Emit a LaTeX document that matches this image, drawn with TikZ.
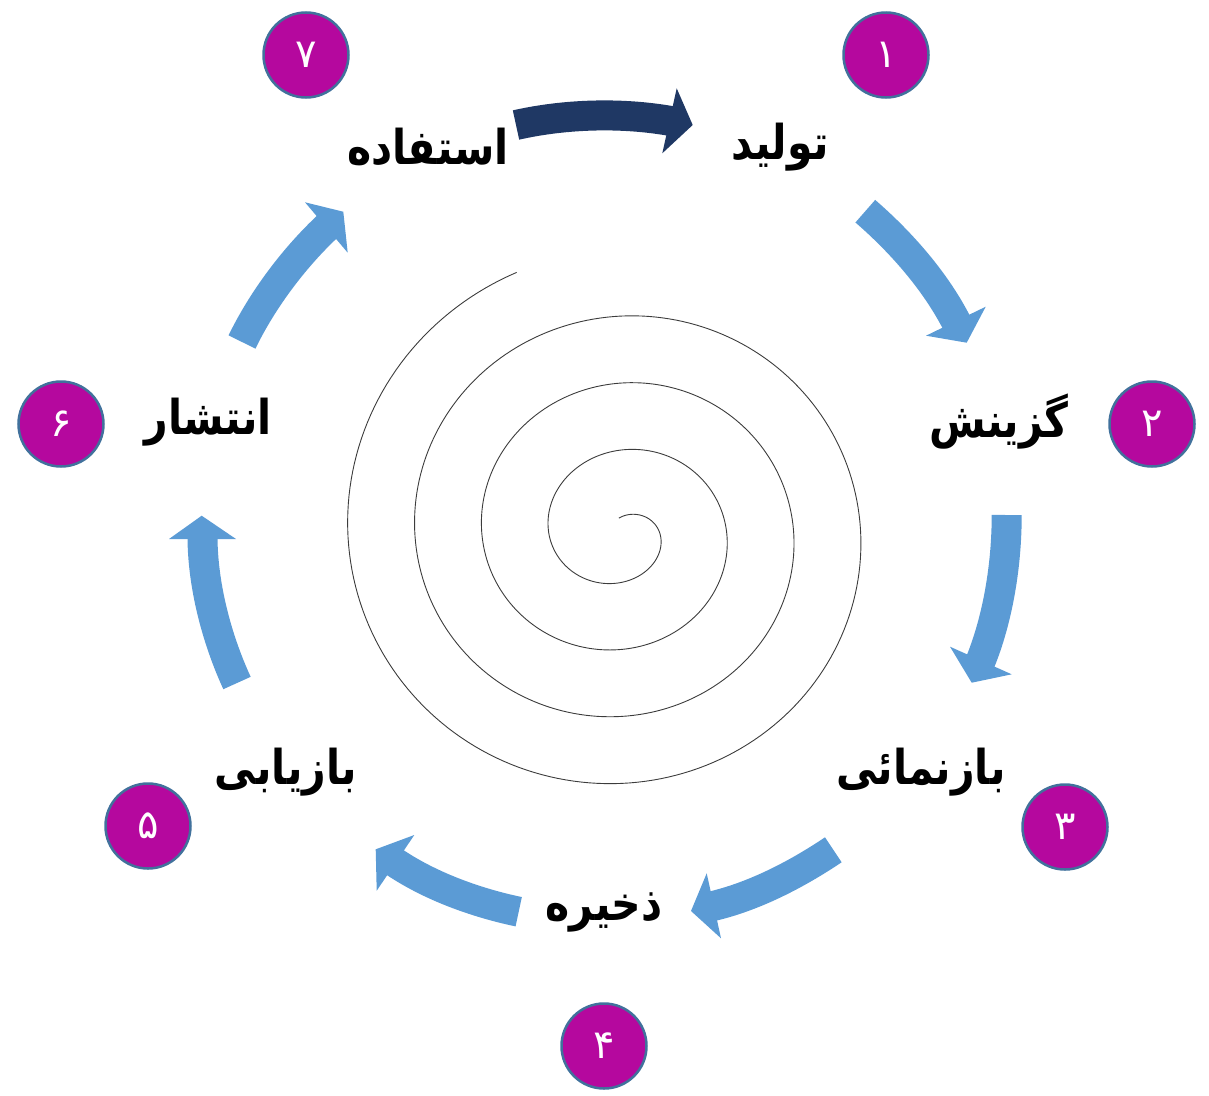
\documentclass[tikz,border=0pt]{standalone}
\usepackage{fontspec}
\newfontfamily\farsi[Script=Arabic]{DejaVu Sans}
\TeXXeTstate=1
\definecolor{badgefill}{RGB}{181,8,158}
\definecolor{badgeline}{RGB}{65,113,156}
\definecolor{flowblue}{RGB}{91,155,213}
\definecolor{flownavy}{RGB}{31,56,100}
\definecolor{spiralgray}{RGB}{60,60,60}

% right-to-left Farsi word, slightly stretched upward
\newcommand\farsiword[1]{\scalebox{1}[1.17]{\beginR #1\endR}}

\tikzset{
  term/.style={font=\farsi\bfseries\fontsize{41}{50}\selectfont, inner sep=0pt, text=black},
  badge/.style={circle, fill=badgefill, draw=badgeline, line width=2.5pt,
                minimum size=85pt, inner sep=0pt, text=white,
                font=\farsi\fontsize{40}{46}\selectfont},
  shaft/.style={line width=30pt, line cap=butt},
  spiralline/.style={draw=spiralgray, line width=0.9pt},
}

\begin{document}
\begin{tikzpicture}[x=1pt, y=-1pt]
\useasboundingbox (0,0) rectangle (1209,1095);

% stage labels
\node[term] (t1) at (780,147) {\farsiword{تولید}};
\node[term] (t2) at (999,422) {\farsiword{گزینش}};
\node[term] (t3) at (921,772) {\farsiword{بازنمائی}};
\node[term] (t4) at (604,912) {\farsiword{ذخیره}};
\node[term] (t5) at (286,772) {\farsiword{بازیابی}};
\node[term] (t6) at (208,422) {\farsiword{انتشار}};
\node[term] (t7) at (428,147) {\farsiword{استفاده}};

% numbered badges
\node[badge] (n1) at (886,55)   {\beginR ۱\endR};
\node[badge] (n2) at (1152,424) {\beginR ۲\endR};
\node[badge] (n3) at (1065,827) {\beginR ۳\endR};
\node[badge] (n4) at (604,1046) {\beginR ۴\endR};
\node[badge] (n5) at (148,826)  {\beginR ۵\endR};
\node[badge] (n6) at (61,424)   {\beginR ۶\endR};
\node[badge] (n7) at (306,55)   {\beginR ۷\endR};

% block arrows: tail, shaft end, head corners and tip
% 7 -> 1
\coordinate (s71) at (516,125);   \coordinate (e71) at (672.5,121.3);
\coordinate (h71a) at (676.7,88.3); \coordinate (h71t) at (692.7,125); \coordinate (h71b) at (662.3,153.3);
\draw[shaft, draw=flownavy] (s71) .. controls (565.7,113.8) and (622.3,112.2) .. (e71);
\fill[flownavy] (h71a) -- (h71t) -- (h71b) -- cycle;

% 1 -> 2
\coordinate (s12) at (865.3,211.2); \coordinate (e12) at (957.2,323.9);
\coordinate (h12a) at (985.7,306.7); \coordinate (h12t) at (966.7,342.7); \coordinate (h12b) at (926,335.7);
\draw[shaft, draw=flowblue] (s12) .. controls (901.2,242.3) and (935.7,281.5) .. (e12);
\fill[flowblue] (h12a) -- (h12t) -- (h12b) -- cycle;

% 2 -> 3
\coordinate (s23) at (1006.7,515); \coordinate (e23) at (979.7,663.3);
\coordinate (h23a) at (1011.7,674.3); \coordinate (h23t) at (971.7,682.7); \coordinate (h23b) at (950,646.7);
\draw[shaft, draw=flowblue] (s23) .. controls (1006.7,564) and (998.3,618) .. (e23);
\fill[flowblue] (h23a) -- (h23t) -- (h23b) -- cycle;

% 3 -> 4
\coordinate (s34) at (833.3,849.8); \coordinate (e34) at (710.9,906.5);
\coordinate (h34a) at (721,938.3); \coordinate (h34t) at (691,911); \coordinate (h34b) at (706.7,873.3);
\draw[shaft, draw=flowblue] (s34) .. controls (796.8,874.3) and (753.8,896.7) .. (e34);
\fill[flowblue] (h34a) -- (h34t) -- (h34b) -- cycle;

% 4 -> 5
\coordinate (s45) at (518.7,911.7); \coordinate (e45) at (393,861.1);
\coordinate (h45a) at (376.7,890.7); \coordinate (h45t) at (375.7,849.3); \coordinate (h45b) at (414.3,835);
\draw[shaft, draw=flowblue] (s45) .. controls (475.6,902.7) and (429.3,885.9) .. (e45);
\fill[flowblue] (h45a) -- (h45t) -- (h45b) -- cycle;

% 5 -> 6
\coordinate (s56) at (237,683); \coordinate (e56) at (202.5,536);
\coordinate (h56a) at (169,539); \coordinate (h56t) at (201.7,515.7); \coordinate (h56b) at (236,539);
\draw[shaft, draw=flowblue] (s56) .. controls (216.6,638.6) and (202.5,585) .. (e56);
\fill[flowblue] (h56a) -- (h56t) -- (h56b) -- cycle;

% 6 -> 7
\coordinate (s67) at (242,342); \coordinate (e67) at (328.5,225.5);
\coordinate (h67a) at (305,202.3); \coordinate (h67t) at (343.3,211.7); \coordinate (h67b) at (347.7,252.7);
\draw[shaft, draw=flowblue] (s67) .. controls (262.5,299.7) and (294.2,257.5) .. (e67);
\fill[flowblue] (h67a) -- (h67t) -- (h67b) -- cycle;

% central spiral
\draw[spiralline] plot[domain=-0.1:24.77, samples=800]
  ({621+(22+10.66*\x)*sin(\x r)}, {533-(16+10.66*\x)*cos(\x r)});
\end{tikzpicture}
\end{document}
